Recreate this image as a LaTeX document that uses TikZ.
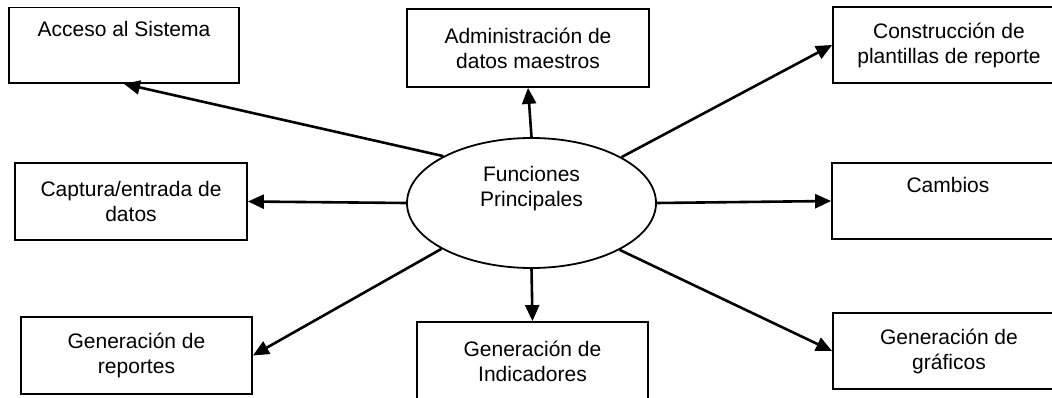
\documentclass[tikz,border=0pt]{standalone}
\usepackage{fontspec}
\setmainfont{Liberation Sans}
\usetikzlibrary{arrows.meta,shapes.geometric}

\tikzset{
  caja/.style={draw,rectangle,line width=1.8pt,minimum width=232pt,minimum height=77pt,align=center,inner sep=0pt},
  flecha/.style={->,line width=2.6pt}
}

\begin{document}
\begin{tikzpicture}[>={Triangle[length=16pt,width=14pt]},x=1pt,y=-1pt,font=\fontsize{21}{25}\selectfont]
\useasboundingbox (0,0) rectangle (1052,398);

\node(fp) at (531.5,203)[ellipse,draw,line width=1.8pt,minimum width=249pt,minimum height=130pt,inner sep=0pt,align=center]{Funciones\\Principales\\\strut};

\node(acc) at (124,45.25)[caja,minimum width=230pt,minimum height=75.5pt]{Acceso al Sistema\\\strut};
\node(adm) at (528,48)[caja,minimum width=242pt,minimum height=78pt]{Administración de\\datos maestros};
\node(con) at (949,45)[caja,minimum height=76pt]{Construcción de\\plantillas de reporte};
\node(cap) at (131,201.5)[caja]{Captura/entrada de\\datos};
\node(cam) at (948,201)[caja,minimum height=76pt]{Cambios\\\strut};
\node(rep) at (136.5,355.5)[caja,minimum width=231pt]{Generación de\\reportes};
\node(ind) at (532.5,361)[caja,minimum width=231pt,minimum height=78pt]{Generación de\\Indicadores};
\node(gra) at (949,351)[caja,minimum height=76pt]{Generación de\\gráficos};

\draw[flecha] (fp.152.5) -- (acc.south);
\draw[flecha] (fp.north) -- (adm.south);
\draw[flecha] (fp.27.5) -- (con.west);
\draw[flecha] (fp.west) -- (cap.east);
\draw[flecha] (fp.east) -- (cam.west);
\draw[flecha] (fp.207.5) -- (rep.east);
\draw[flecha] (fp.south) -- (ind.north);
\draw[flecha] (fp.332.5) -- (gra.west);

\end{tikzpicture}
\end{document}
